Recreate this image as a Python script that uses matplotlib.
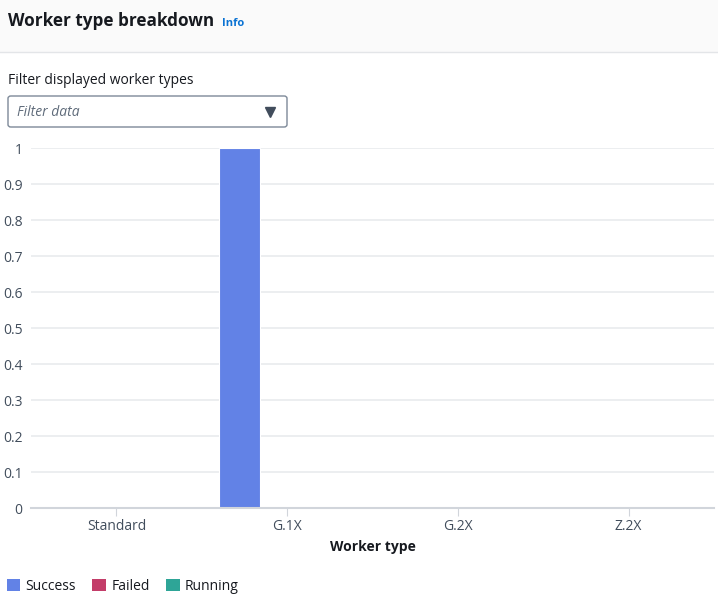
import matplotlib.pyplot as plt
import numpy as np
from matplotlib.patches import Rectangle, FancyBboxPatch, Patch

plt.rcParams['font.family'] = ['Open Sans', 'DejaVu Sans']

categories = ['Standard', 'G.1X', 'G.2X', 'Z.2X']
series_names = ['Success', 'Failed', 'Running']
success = [0, 1, 0, 0]
failed = [0, 0, 0, 0]
running = [0, 0, 0, 0]
colors = ['#6282e6', '#c33d69', '#2ea597']
yticks = np.arange(0, 1.01, 0.1)

W, H = 718, 601

def fx(x):
    return x / W

def fy(y):
    return 1 - y / H

fig = plt.figure(figsize=(W / 100, H / 100), dpi=100)

# header band
fig.patches.append(Rectangle((0, fy(52)), 1, 52 / H, transform=fig.transFigure,
                             facecolor='#fafafa', edgecolor='none', zorder=0))
fig.add_artist(plt.Line2D([0, 1], [fy(52), fy(52)], color='#e3e5e8', lw=1))
fig.text(fx(8), fy(21), 'Worker type breakdown', fontsize=12.3, fontweight='bold',
         color='#16191f', va='center', ha='left')
fig.text(fx(222), fy(23), 'Info', fontsize=8, fontweight='bold',
         color='#0972d3', va='center', ha='left')

# filter
fig.text(fx(8), fy(81), 'Filter displayed worker types', fontsize=10,
         color='#16191f', va='center', ha='left')
fig.patches.append(FancyBboxPatch((fx(8), fy(127)), fx(279), 31 / H,
                                  boxstyle='round,pad=0,rounding_size=0.004',
                                  transform=fig.transFigure, facecolor='white',
                                  edgecolor='#7d8998', lw=1))
fig.text(fx(17), fy(112), 'Filter data', fontsize=10, style='italic',
         color='#5f6b7a', va='center', ha='left')
fig.add_artist(plt.Line2D([fx(270)], [fy(112)], marker='v', markersize=7.5,
                          color='#414d5c', transform=fig.transFigure))

# chart
ax = fig.add_axes([fx(31), fy(508), fx(714 - 31), (508 - 148) / H])
x = np.arange(len(categories))
w = 0.24
off = 0.28
for i, (vals, name) in enumerate(zip([success, failed, running], series_names)):
    ax.bar(x + (i - 1) * off, vals, width=w, color=colors[i], label=name,
           edgecolor='white', linewidth=0.8, zorder=3)

ax.set_xlim(-0.5, len(categories) - 0.5)
ax.set_ylim(0, 1)
ax.set_yticks(yticks)
ax.set_yticklabels(['0'] + ['%.1f' % v for v in yticks[1:-1]] + ['1'])
ax.set_xticks(x)
ax.set_xticklabels(categories)
ax.grid(axis='y', color='#e9ebed', lw=1.2, zorder=0)
for s in ['top', 'right', 'left']:
    ax.spines[s].set_visible(False)
ax.spines['bottom'].set_color('#d1d5db')
ax.spines['bottom'].set_linewidth(1.5)
ax.spines['bottom'].set_zorder(4)
ax.tick_params(axis='y', length=0, pad=6, labelsize=10, labelcolor='#414d5c')
ax.tick_params(axis='x', length=6, color='#d1d5db', pad=2, labelsize=10,
               labelcolor='#414d5c')
ax.set_xlabel('Worker type', fontsize=10, fontweight='bold', color='#16191f',
              labelpad=4)

handles = [Patch(facecolor=c, edgecolor='none') for c in colors]
fig.legend(handles, series_names, loc='center left',
           bbox_to_anchor=(fx(-6), fy(586)), ncol=3, frameon=False,
           handlelength=1.0, handleheight=1.0, handletextpad=0.35,
           columnspacing=1.2, fontsize=10, labelcolor='#16191f')

fig.savefig('out.png', dpi=100)
